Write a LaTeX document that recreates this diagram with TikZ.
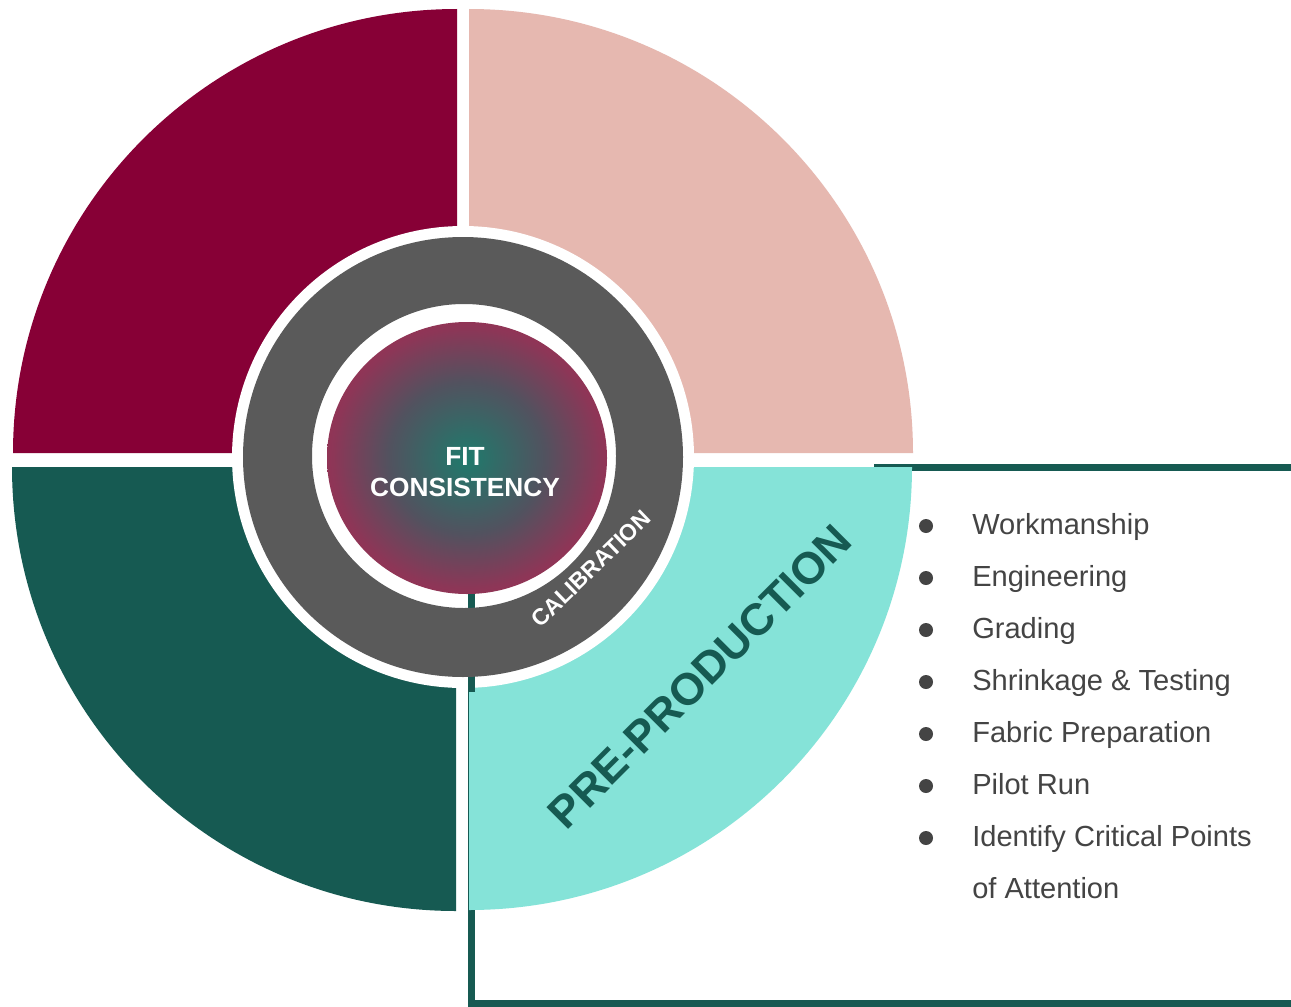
\documentclass[tikz,border=0pt]{standalone}
\usepackage{fontspec}
\setmainfont{Liberation Sans}
\definecolor{cMaroon}{HTML}{870036}
\definecolor{cPink}{HTML}{E6B8B0}
\definecolor{cDark}{HTML}{165A52}
\definecolor{cTeal}{HTML}{85E3D8}
\definecolor{cGrey}{HTML}{5A5A5A}
\definecolor{cText}{HTML}{444444}
\definecolor{gIn}{HTML}{1F7A6C}
\definecolor{gMid}{HTML}{52525F}
\definecolor{gMidB}{HTML}{8D3657}
\definecolor{gOut}{HTML}{A82A50}
\pgfdeclareradialshading{fitgrad}{\pgfpoint{0bp}{0bp}}{color(0bp)=(gIn); color(14bp)=(gMid); color(24bp)=(gMidB); color(32bp)=(gOut); color(50bp)=(gOut)}
\tikzset{
  boxline/.style={draw=cDark, line width=5.25pt},
  bulletdot/.style={circle, fill=cText, minimum size=10.5pt, inner sep=0pt},
  itemtext/.style={anchor=base west, inner sep=0pt, text=cText, font=\fontsize{21.8pt}{26pt}\selectfont},
}
\begin{document}
\begin{tikzpicture}[x=0.75pt,y=-0.75pt]
\useasboundingbox (0,0) rectangle (1291,1006);
\fill[white] (0,0) rectangle (1291,1006);
% frame lines
\coordinate (topL) at (874,467);
\coordinate (topR) at (1300,467);
\coordinate (vTop) at (471.5,458);
\coordinate (vBot) at (471.5,1003);
\coordinate (botR) at (1300,1003);
\coordinate (vGap) at (471.5,692);
\draw[boxline] (topL) -- (topR);
\draw[boxline, line join=miter] (vTop) -- (vBot) -- (botR);
% quadrants
\fill[cMaroon] (457,453) -- (13,453) arc[start angle=180, end angle=270, radius=444] -- cycle;
\fill[cPink] (469,453) -- (469,9) arc[start angle=270, end angle=360, radius=444] -- cycle;
\fill[cDark] (456,467) -- (456,911) arc[start angle=90, end angle=180, radius=444] -- cycle;
\fill[cTeal] (469,467) -- (912,467) arc[start angle=0, end angle=90, radius=443] -- cycle;
% rings
\fill[white] (463,457) circle[radius=231];
\draw[boxline] (vTop) -- (vGap);
\fill[cGrey, even odd rule] (463,457) circle[radius=220] (464,456) circle[radius=152];
\shade[shading=fitgrad] (467,458) circle[x radius=140, y radius=136];
% texts
\node[inner sep=0pt, text=white, align=center, font=\bfseries\fontsize{19.7pt}{23.3pt}\selectfont] (fit) at (465,472) {FIT\\CONSISTENCY};
\node[inner sep=0pt, text=white, rotate=44, font=\bfseries\fontsize{17.2pt}{20pt}\selectfont] (calib) at (591,569) {CALIBRATION};
\node[inner sep=0pt, text=cDark, rotate=45, font=\bfseries\fontsize{33.5pt}{40pt}\selectfont] (pre) at (700,677) {PRE-PRODUCTION};
% bullets
\node[bulletdot] (d1) at (926,526) {};
\node[bulletdot] (d2) at (926,578) {};
\node[bulletdot] (d3) at (926,630) {};
\node[bulletdot] (d4) at (926,682) {};
\node[bulletdot] (d5) at (926,734) {};
\node[bulletdot] (d6) at (926,786) {};
\node[bulletdot] (d7) at (926,838) {};
\node[itemtext] (t1) at (972,534) {Workmanship};
\node[itemtext] (t2) at (972,586) {Engineering};
\node[itemtext] (t3) at (972,638) {Grading};
\node[itemtext] (t4) at (972,690) {Shrinkage \& Testing};
\node[itemtext] (t5) at (972,742) {Fabric Preparation};
\node[itemtext] (t6) at (972,794) {Pilot Run};
\node[itemtext] (t7) at (972,846) {Identify Critical Points};
\node[itemtext] (t8) at (972,898) {of Attention};
\end{tikzpicture}
\end{document}
